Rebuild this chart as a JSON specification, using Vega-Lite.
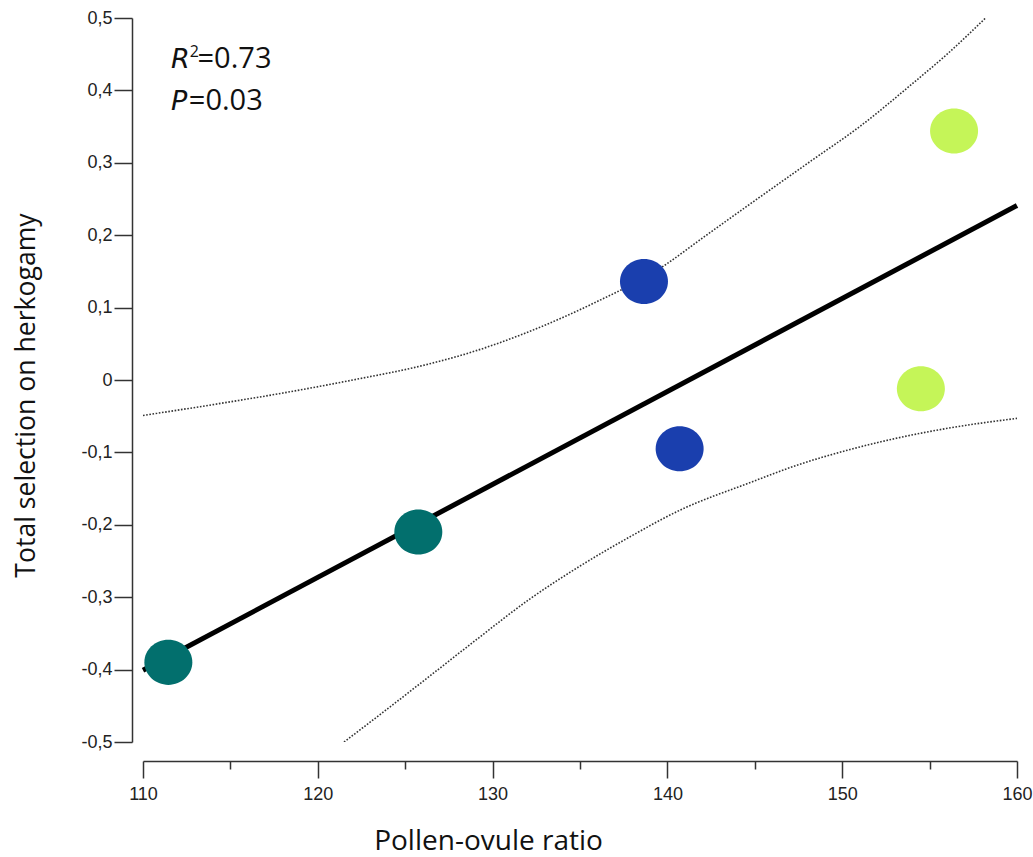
{
  "$schema": "https://vega.github.io/schema/vega-lite/v6.json",
  "width": 874,
  "height": 724,
  "autosize": {"type": "none"},
  "padding": {"left": 143, "top": 18, "right": 16, "bottom": 115},
  "background": "white",
  "config": {"view": {"stroke": null}},
  "datasets": {
    "points": [
      {"x": 111.45, "y": -0.39, "g": "a"},
      {"x": 125.75, "y": -0.21, "g": "a"},
      {"x": 138.66, "y": 0.136, "g": "b"},
      {"x": 140.7, "y": -0.095, "g": "b"},
      {"x": 154.5, "y": -0.012, "g": "c"},
      {"x": 156.4, "y": 0.344, "g": "c"}
    ],
    "fit": [
      {"x": 110, "y": -0.401},
      {"x": 160, "y": 0.241}
    ],
    "bands": [
      {"x": 110, "y": -0.049, "b": "upper"},
      {"x": 114, "y": -0.034, "b": "upper"},
      {"x": 118, "y": -0.018, "b": "upper"},
      {"x": 122, "y": 0.0, "b": "upper"},
      {"x": 126, "y": 0.02, "b": "upper"},
      {"x": 129, "y": 0.04, "b": "upper"},
      {"x": 132, "y": 0.066, "b": "upper"},
      {"x": 135.6, "y": 0.104, "b": "upper"},
      {"x": 139.75, "y": 0.157, "b": "upper"},
      {"x": 142, "y": 0.196, "b": "upper"},
      {"x": 144.55, "y": 0.24, "b": "upper"},
      {"x": 148.3, "y": 0.304, "b": "upper"},
      {"x": 151, "y": 0.35, "b": "upper"},
      {"x": 154.05, "y": 0.41, "b": "upper"},
      {"x": 156, "y": 0.45, "b": "upper"},
      {"x": 158.2, "y": 0.5, "b": "upper"},
      {"x": 121.5, "y": -0.5, "b": "lower"},
      {"x": 124, "y": -0.454, "b": "lower"},
      {"x": 126.4, "y": -0.409, "b": "lower"},
      {"x": 129, "y": -0.36, "b": "lower"},
      {"x": 132.1, "y": -0.303, "b": "lower"},
      {"x": 135, "y": -0.257, "b": "lower"},
      {"x": 137.9, "y": -0.216, "b": "lower"},
      {"x": 140.7, "y": -0.18, "b": "lower"},
      {"x": 144.7, "y": -0.142, "b": "lower"},
      {"x": 147.5, "y": -0.117, "b": "lower"},
      {"x": 150.45, "y": -0.096, "b": "lower"},
      {"x": 153, "y": -0.081, "b": "lower"},
      {"x": 156.2, "y": -0.066, "b": "lower"},
      {"x": 160, "y": -0.053, "b": "lower"}
    ],
    "italic": [
      {"x": 111.6, "y": 0.4314, "t": "R"},
      {"x": 111.6, "y": 0.3734, "t": "P"}
    ],
    "sup": [
      {"x": 112.68, "y": 0.4466, "t": "2"}
    ],
    "plain": [
      {"x": 113.12, "y": 0.4314, "t": "=0.73"},
      {"x": 112.62, "y": 0.3734, "t": "=0.03"}
    ]
  },
  "encoding": {
    "x": {
      "field": "x",
      "type": "quantitative",
      "scale": {"domain": [110, 160], "nice": false, "zero": false},
      "axis": {
        "orient": "bottom",
        "offset": 19,
        "values": [110, 115, 120, 125, 130, 135, 140, 145, 150, 155, 160],
        "labelExpr": "datum.value % 10 === 0 ? datum.label : ''",
        "tickSize": {"condition": {"test": "datum.value % 10 === 0", "value": 17}, "value": 8},
        "tickColor": "#333",
        "tickWidth": 1.5,
        "domainColor": "#333",
        "domainWidth": 1.5,
        "grid": false,
        "labelFont": "Liberation Sans",
        "labelFontSize": 18,
        "labelColor": "#222",
        "labelPadding": 7,
        "labelFlush": false,
        "labelOverlap": false,
        "title": "Pollen-ovule ratio",
        "titleFont": "Open Sans",
        "titleFontSize": 28,
        "titleFontWeight": "normal",
        "titleColor": "#111",
        "titleAlign": "center",
        "titleBaseline": "alphabetic",
        "titleX": 345,
        "titleY": 88
      }
    },
    "y": {
      "field": "y",
      "type": "quantitative",
      "scale": {"domain": [-0.5, 0.5], "nice": false, "zero": false},
      "axis": {
        "orient": "left",
        "offset": 11,
        "values": [-0.5, -0.4, -0.3, -0.2, -0.1, 0, 0.1, 0.2, 0.3, 0.4, 0.5],
        "labelExpr": "datum.value == 0 ? '0' : (datum.value < 0 ? '-' : '') + replace(format(abs(datum.value), '.1f'), '.', ',')",
        "tickSize": 18,
        "tickColor": "#333",
        "tickWidth": 1.5,
        "domainColor": "#333",
        "domainWidth": 1.5,
        "grid": false,
        "labelFont": "Liberation Sans",
        "labelFontSize": 18,
        "labelColor": "#222",
        "labelPadding": 2,
        "labelFlush": false,
        "labelOverlap": false,
        "title": "Total selection on herkogamy",
        "titleFont": "Open Sans",
        "titleFontSize": 26.6,
        "titleFontWeight": "normal",
        "titleColor": "#111",
        "titleAngle": 270,
        "titleAlign": "center",
        "titleBaseline": "alphabetic",
        "titleX": -98,
        "titleY": 377
      }
    }
  },
  "layer": [
    {
      "data": {"name": "bands"},
      "mark": {"type": "line", "color": "#333", "strokeWidth": 1.6, "strokeDash": [1.6, 1.6], "interpolate": "monotone", "clip": true},
      "encoding": {"detail": {"field": "b"}}
    },
    {
      "data": {"name": "fit"},
      "mark": {"type": "line", "color": "black", "strokeWidth": 5, "strokeCap": "butt"},
      "encoding": {}
    },
    {
      "data": {"name": "points"},
      "mark": {"type": "point", "filled": true, "opacity": 1, "size": 2304, "shape": "M-1,0A1,0.94,0,1,1,1,0A1,0.94,0,1,1,-1,0Z", "strokeWidth": 0},
      "encoding": {
        "color": {
          "field": "g",
          "type": "nominal",
          "scale": {"domain": ["a", "b", "c"], "range": ["#026f6d", "#1a3fae", "#c5f558"]},
          "legend": null
        }
      }
    },
    {
      "data": {"name": "italic"},
      "mark": {"type": "text", "font": "DejaVu Sans", "fontSize": 27, "fontStyle": "italic", "align": "left", "baseline": "alphabetic", "color": "#111"},
      "encoding": {"text": {"field": "t"}}
    },
    {
      "data": {"name": "sup"},
      "mark": {"type": "text", "font": "Open Sans", "fontSize": 16, "align": "left", "baseline": "alphabetic", "color": "#111"},
      "encoding": {"text": {"field": "t"}}
    },
    {
      "data": {"name": "plain"},
      "mark": {"type": "text", "font": "Open Sans", "fontSize": 29, "align": "left", "baseline": "alphabetic", "color": "#111"},
      "encoding": {"text": {"field": "t"}}
    }
  ]
}
